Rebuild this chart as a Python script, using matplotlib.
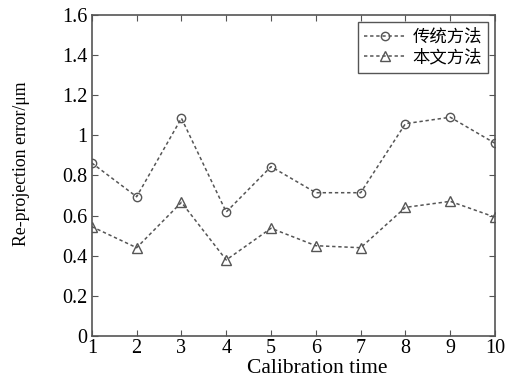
import matplotlib
matplotlib.use("Agg")
import matplotlib.pyplot as plt

x = [1, 2, 3, 4, 5, 6, 7, 8, 9, 10]
traditional = [0.862, 0.694, 1.085, 0.618, 0.844, 0.714, 0.714, 1.058, 1.090, 0.960]
proposed = [0.545, 0.440, 0.666, 0.379, 0.537, 0.450, 0.440, 0.641, 0.671, 0.592]
labels = ["传统方法", "本文方法"]
xticks = [1, 2, 3, 4, 5, 6, 7, 8, 9, 10]
yticks = [0, 0.2, 0.4, 0.6, 0.8, 1, 1.2, 1.4, 1.6]
yticklabels = ["0", "0.2", "0.4", "0.6", "0.8", "1", "1.2", "1.4", "1.6"]

plt.rcParams['font.family'] = ['Liberation Serif', 'Noto Sans CJK SC']
plt.rcParams['font.size'] = 14

fig = plt.figure(figsize=(5.13, 3.81), dpi=100)
ax = fig.add_axes([0.179, 0.118, 0.786, 0.843])
c = '#555555'
dash = (0, (2.2, 1.8))
ax.plot(x, traditional, linestyle=dash, color=c, marker='o', markersize=6,
        markerfacecolor='none', markeredgecolor=c, linewidth=1.1, label=labels[0])
ax.plot(x, proposed, linestyle=dash, color=c, marker='^', markersize=7,
        markerfacecolor='none', markeredgecolor=c, linewidth=1.1, label=labels[1])
ax.set_xlim(1, 10)
ax.set_ylim(0, 1.6)
ax.set_xticks(xticks)
ax.set_yticks(yticks)
ax.set_yticklabels(yticklabels)
ax.tick_params(direction='in', top=True, right=True, length=4, color=c, pad=3,
               labelsize=14.5)
ax.tick_params(axis='x', pad=2)
for s in ax.spines.values():
    s.set_color(c)
    s.set_linewidth(1.2)
ax.set_xlabel("Calibration time", fontsize=15.5)
ax.set_ylabel("Re-projection error/μm", fontsize=12.8)
ax.xaxis.set_label_coords(0.558, -0.07)
ax.yaxis.set_label_coords(-0.154, 0.537)
leg = ax.legend(loc='upper right', fancybox=False, edgecolor=c, framealpha=1,
                handlelength=2.4, borderpad=0.35, labelspacing=0.15, handletextpad=0.4,
                borderaxespad=0.4,
                prop={'family': ['Noto Sans CJK SC'], 'size': 12.5})
leg.get_frame().set_linewidth(1.0)
fig.savefig("out.png", dpi=100)
